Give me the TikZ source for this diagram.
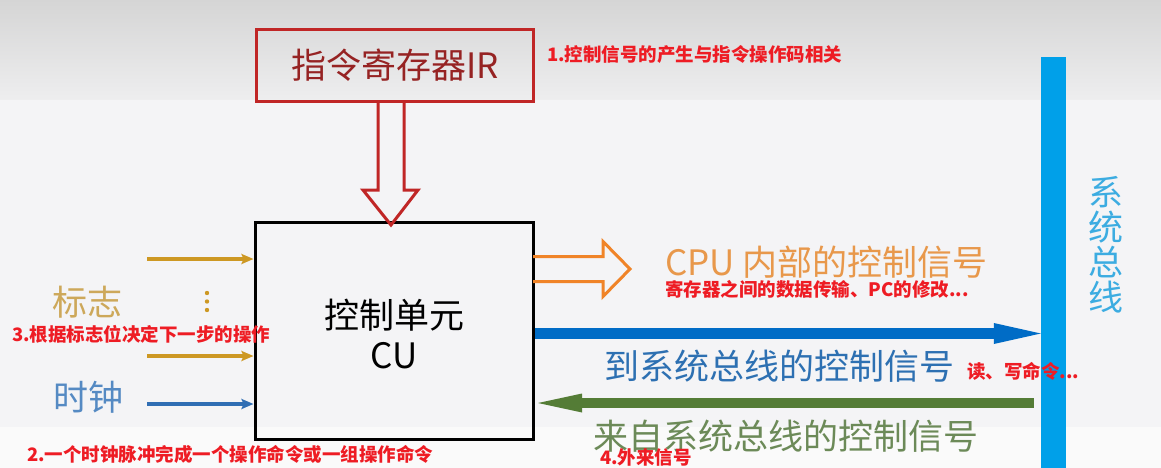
\documentclass[tikz,border=0pt]{standalone}
\usepackage{fontspec}
\setmainfont{Noto Sans CJK SC}
\usetikzlibrary{arrows.meta,calc}

\definecolor{irred}{RGB}{192,38,38}
\definecolor{irtext}{RGB}{150,35,35}
\definecolor{notered}{RGB}{238,28,36}
\definecolor{flaggold}{RGB}{205,152,35}
\definecolor{flagtext}{RGB}{205,168,90}
\definecolor{clockblue}{RGB}{48,110,180}
\definecolor{clocktext}{RGB}{85,138,195}
\definecolor{innerorange}{RGB}{240,132,40}
\definecolor{innertext}{RGB}{232,152,75}
\definecolor{tobusblue}{RGB}{0,108,198}
\definecolor{tobustext}{RGB}{45,112,178}
\definecolor{frombusgreen}{RGB}{84,124,54}
\definecolor{frombustext}{RGB}{108,138,88}
\definecolor{busblue}{RGB}{0,160,233}
\definecolor{bustext}{RGB}{60,172,225}
\definecolor{bgtop}{RGB}{213,213,213}
\definecolor{bgmid}{RGB}{238,238,239}
\definecolor{bgbody}{RGB}{244,244,246}
\definecolor{bgfoot}{RGB}{250,250,250}

\begin{document}
\begin{tikzpicture}[x=1pt,y=-1pt,
    unit box/.style={draw,line width=3pt,inner sep=0pt},
    big text/.style={inner sep=0pt,font=\fontsize{35}{40}\selectfont},
    note/.style={inner sep=0pt,anchor=west,text=notered,font=\fontsize{18.5}{22}\selectfont\bfseries},
    hollow arrow/.style={line width=3pt,line join=miter},
    in line/.style={line width=3.5pt,-{Stealth[length=12pt,width=10pt,inset=2pt]}}]
    % background
    \useasboundingbox (0,0) rectangle (1161,468);
    \fill[bgbody] (0,0) rectangle (1161,468);
    \shade[top color=bgtop,bottom color=bgmid] (0,0) rectangle (1161,100);
    \fill[bgfoot] (0,427) rectangle (1161,468);

    \node[unit box,draw=irred,minimum width=277pt,minimum height=72pt,text=irtext,font=\fontsize{35}{40}\selectfont] (IR) at (395,65.5) {指令寄存器IR};
    \node[unit box,minimum width=278pt,minimum height=217pt] (CU) at (394,330.5) {};
    \node[big text,align=center] (CU text) at ($(CU.center)+(0,4)$) {控制单元\\CU};
    \node[fill=busblue,minimum width=25pt,minimum height=411pt,inner sep=0pt] (bus) at (1053.5,262.5) {};
    \node[inner sep=0pt,align=center,text=bustext,font=\fontsize{35}{35}\selectfont] (bus label) at (1106,244.5) {系\\统\\总\\线};

    % IR -> CU
    \draw[hollow arrow,draw=irred] ($(IR.south)+(-17,-1.5)$) -- ++(0,88.5) -- ++(-15,0) -- ++(28,35) -- ++(27,-35) -- ++(-14,0) -- ++(0,-88.5);

    % inputs
    \node[big text,text=flagtext] (flag) at (87,302) {标志};
    \node[big text,text=clocktext] (clock) at (88,397) {时钟};
    \coordinate (flag in1) at (147,259);
    \coordinate (flag in2) at (147,356);
    \coordinate (clock in) at (147,404);
    \draw[in line,flaggold] (flag in1) -- (flag in1 -| CU.west);
    \draw[in line,flaggold] (flag in2) -- (flag in2 -| CU.west);
    \draw[in line,clockblue] (clock in) -- (clock in -| CU.west);
    \foreach \y in {293,301.5,310}
        \fill[flaggold] (207,\y) circle (2.2pt);

    % outputs
    \draw[hollow arrow,draw=innerorange] ($(CU.east)+(-1.5,-74)$) -- ++(70,0) -- ++(0,-15) -- ++(27,27.5) -- ++(-27,27.5) -- ++(0,-15) -- ++(-70,0);
    \node[big text,anchor=west,text=innertext] (inner label) at (665,262) {CPU 内部的控制信号};
    \draw[line width=11pt,tobusblue,-{Triangle[length=47pt,width=21pt,line width=0pt]}] ($(CU.east)+(0,3)$) coordinate (to) -- (to -| bus.west);
    \node[big text,anchor=west,text=tobustext] (to label) at (604,366) {到系统总线的控制信号};
    \draw[line width=10pt,frombusgreen,-{Triangle[length=44pt,width=19pt,line width=0pt]},shorten >=3.5pt,shorten <=7pt] ($(bus.west)+(0,140.5)$) coordinate (from) -- (from -| CU.east);
    \node[big text,anchor=west,text=frombustext] (from label) at (593,436) {来自系统总线的控制信号};

    % notes
    \node[note] (note1) at (547,54) {1.控制信号的产生与指令操作码相关};
    \node[note] (note2) at (27,454) {2.一个时钟脉冲完成一个操作命令或一组操作命令};
    \node[note] (note3) at (12,334) {3.根据标志位决定下一步的操作};
    \node[note] (note4) at (600,457) {4.外来信号};
    \node[note] (note inner) at (665,289) {寄存器之间的数据传输、PC的修改...};
    \node[note] (note to) at (967,371) {读、写命令...};
\end{tikzpicture}
\end{document}
